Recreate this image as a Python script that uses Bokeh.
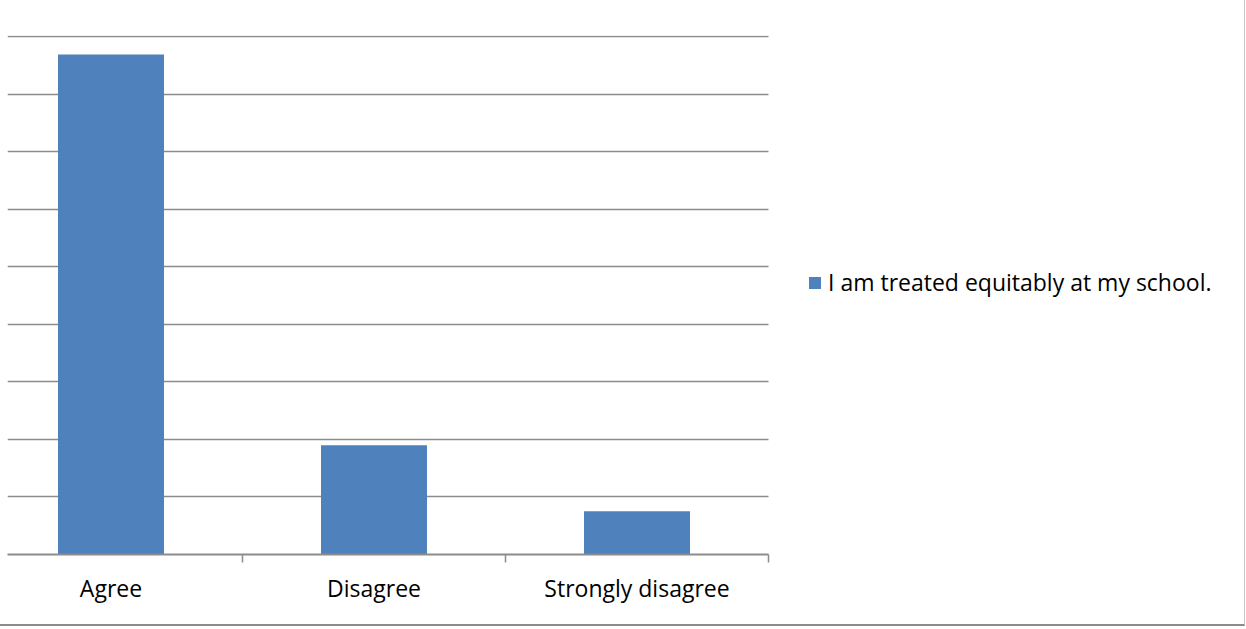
from bokeh.plotting import figure
from bokeh.models import (Range1d, FixedTicker, Grid, Legend, LegendItem, ColumnDataSource)
from bokeh.embed import file_html
from bokeh.resources import INLINE

# ---- data ----
categories = ["Agree", "Disagree", "Strongly disagree"]
values = [86.9, 19.0, 7.5]
series_name = "I am treated equitably at my school."
grid_ticks = [0, 10, 20, 30, 40, 50, 60, 70, 80, 90]

x_pos = [i + 0.5 for i in range(len(categories))]
src = ColumnDataSource(dict(x=x_pos, top=values, cat=categories))

FONT = "Open Sans"
BAR = "#4f81bd"
GRID = "#8c8c8c"

X0 = 28 / 263                 # left edge of the plotted category band
X1 = float(len(categories))   # right edge of the category axis
XEND = X0 + 1238 / 263        # frame extends under the legend area

p = figure(width=1245, height=626, output_backend="svg", toolbar_location=None,
           x_range=Range1d(X0, XEND), y_range=Range1d(0, 90.2),
           y_axis_location=None, min_border_left=7, min_border_top=35,
           min_border_bottom=72, min_border_right=0)
p.outline_line_color = None
for g in p.grid:
    g.visible = False
p.add_layout(Grid(dimension=1, ticker=FixedTicker(ticks=grid_ticks),
                  cross_bounds=(X0, X1),
                  grid_line_color=GRID, grid_line_width=1.5))

r = p.vbar(x="x", top="top", width=106 / 263, bottom=0, source=src,
           fill_color=BAR, line_color=None)

ax = p.xaxis[0]
ax.bounds = (X0, X1)
ax.ticker = FixedTicker(ticks=x_pos, minor_ticks=[1, 2, 3])
ax.major_label_overrides = {x: c for x, c in zip(x_pos, categories)}
ax.major_tick_out = 0
ax.major_tick_in = 0
ax.minor_tick_out = 8
ax.minor_tick_in = 0
ax.minor_tick_line_color = GRID
ax.minor_tick_line_width = 1.5
ax.axis_line_color = GRID
ax.axis_line_width = 2
ax.major_label_standoff = 9
ax.major_label_text_font = FONT
ax.major_label_text_font_size = "23px"
ax.major_label_text_color = "#000000"

legend = Legend(items=[LegendItem(label=series_name, renderers=[r])],
                location=(800, 256), orientation="vertical",
                glyph_width=15, glyph_height=15, label_standoff=6,
                label_text_font=FONT, label_text_font_size="23px",
                label_text_color="#000000", border_line_color=None,
                background_fill_alpha=0, padding=0, margin=0, spacing=0)
p.add_layout(legend, "center")

p.styles = {"border-right": "1px solid #c8c8c8", "border-bottom": "2px solid #8c8c8c"}

open("out.html", "w").write(file_html(p, INLINE))
